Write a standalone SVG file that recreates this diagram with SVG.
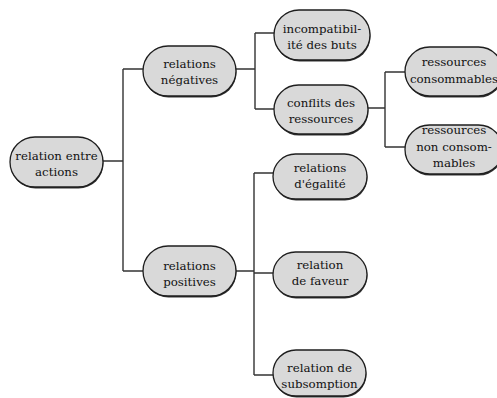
<svg xmlns="http://www.w3.org/2000/svg" width="497" height="398" viewBox="0 0 497 398">
<style>
  .sh { fill: #333; }
  .nd { fill: #d9d9d9; stroke: #1e1e1e; stroke-width: 1.3; }
  .tx { font-family: "DejaVu Serif", "Liberation Serif", serif; font-size: 11.8px; fill: #111; text-anchor: middle; }
  .cn { fill: none; stroke: #333; stroke-width: 1.4; }
</style>
<rect width="497" height="398" fill="#fff"/>
<g id="connectors">
  <path class="cn" d="M103,161 H123 M123,69 V271 M123,69 H143 M123,271 H143"/>
  <path class="cn" d="M236,69 H255 M255,33 V109 M255,33 H274 M255,109 H274"/>
  <path class="cn" d="M368,108 H385 M385,72 V147 M385,72 H405 M385,147 H405"/>
  <path class="cn" d="M236,271 H254 M254,173 V375 M254,173 H273 M254,273 H273 M254,375 H273"/>
</g>
<g id="root">
  <rect class="sh" x="10.5" y="138.5" width="93" height="50" rx="25"/>
  <rect class="nd" x="10" y="137" width="93" height="50" rx="25"/>
  <text class="tx" x="56.5" y="160">relation entre</text>
  <text class="tx" x="56.5" y="176">actions</text>
</g>
<g id="negatives">
  <rect class="sh" x="143.5" y="47.5" width="93" height="50" rx="25"/>
  <rect class="nd" x="143" y="46" width="93" height="50" rx="25"/>
  <text class="tx" x="189.5" y="68">relations</text>
  <text class="tx" x="189.5" y="84">négatives</text>
</g>
<g id="positives">
  <rect class="sh" x="143.5" y="247.5" width="93" height="50" rx="25"/>
  <rect class="nd" x="143" y="246" width="93" height="50" rx="25"/>
  <text class="tx" x="189.5" y="270">relations</text>
  <text class="tx" x="189.5" y="286">positives</text>
</g>
<g id="incompatibilite">
  <rect class="sh" x="274.5" y="11.5" width="96" height="50" rx="25"/>
  <rect class="nd" x="274" y="10" width="96" height="50" rx="25"/>
  <text class="tx" x="322" y="33">incompatibil-</text>
  <text class="tx" x="322" y="49">ité des buts</text>
</g>
<g id="conflits">
  <rect class="sh" x="274.5" y="86.5" width="94" height="49" rx="24.5"/>
  <rect class="nd" x="274" y="85" width="94" height="49" rx="24.5"/>
  <text class="tx" x="321" y="107">conflits des</text>
  <text class="tx" x="321" y="123">ressources</text>
</g>
<g id="consommables">
  <rect class="sh" x="405.5" y="48.5" width="98" height="49" rx="24.5"/>
  <rect class="nd" x="405" y="47" width="98" height="49" rx="24.5"/>
  <text class="tx" x="454" y="66">ressources</text>
  <text class="tx" x="454" y="83">consommables</text>
</g>
<g id="non-consommables">
  <rect class="sh" x="405.5" y="126.5" width="98" height="49" rx="24.5"/>
  <rect class="nd" x="405" y="125" width="98" height="49" rx="24.5"/>
  <text class="tx" x="454" y="134">ressources</text>
  <text class="tx" x="454" y="151">non consom-</text>
  <text class="tx" x="454" y="167">mables</text>
</g>
<g id="egalite">
  <rect class="sh" x="273.5" y="155.5" width="94" height="45" rx="22.5"/>
  <rect class="nd" x="273" y="154" width="94" height="45" rx="22.5"/>
  <text class="tx" x="320" y="172">relations</text>
  <text class="tx" x="320" y="188">d'égalité</text>
</g>
<g id="faveur">
  <rect class="sh" x="273.5" y="253.5" width="94" height="45" rx="22.5"/>
  <rect class="nd" x="273" y="252" width="94" height="45" rx="22.5"/>
  <text class="tx" x="320" y="269">relation</text>
  <text class="tx" x="320" y="285">de faveur</text>
</g>
<g id="subsomption">
  <rect class="sh" x="273.5" y="351.5" width="93" height="46" rx="23"/>
  <rect class="nd" x="273" y="350" width="93" height="46" rx="23"/>
  <text class="tx" x="319.5" y="372">relation de</text>
  <text class="tx" x="319.5" y="388">subsomption</text>
</g>
</svg>
